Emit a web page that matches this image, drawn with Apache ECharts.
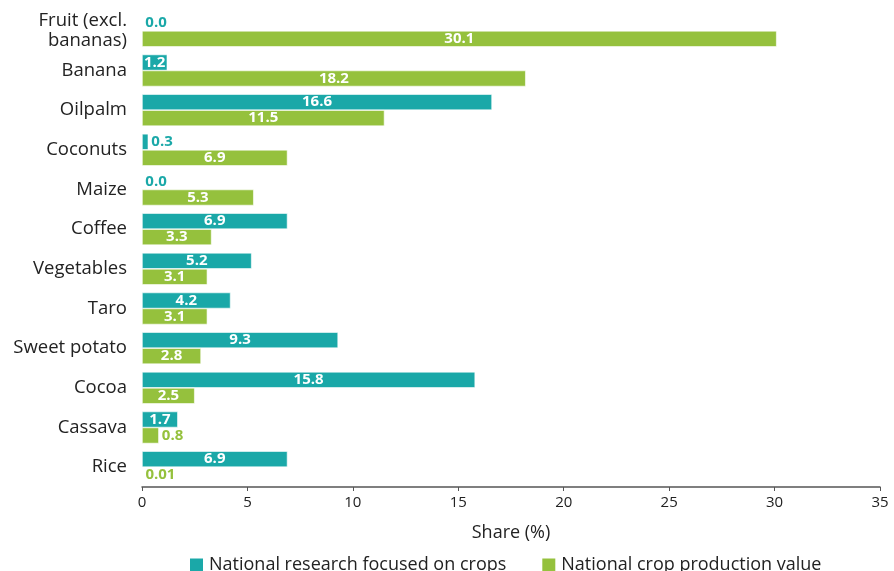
<!DOCTYPE html>
<html><head><meta charset="utf-8">
<script src="https://cdn.jsdelivr.net/npm/echarts@6/dist/echarts.min.js"></script>
<style>html,body{margin:0;padding:0;background:#fff}#c{width:894px;height:571px}</style>
</head><body><div id="c"></div>
<script>
const categories = ['Fruit (excl.\nbananas)', 'Banana', 'Oilpalm', 'Coconuts', 'Maize', 'Coffee', 'Vegetables', 'Taro', 'Sweet potato', 'Cocoa', 'Cassava', 'Rice'];
const researchShare = [0.0, 1.2, 16.6, 0.3, 0.0, 6.9, 5.2, 4.2, 9.3, 15.8, 1.7, 6.9];
const productionShare = [30.1, 18.2, 11.5, 6.9, 5.3, 3.3, 3.1, 3.1, 2.8, 2.5, 0.8, 0.01];
const seriesNames = ['National research focused on crops', 'National crop production value'];
const xTicks = [0, 35, 5];

const FONT = 'Open Sans';
const TEAL = '#1aa8a8';
const GREEN = '#95c13d';

function fmt(v) { return (v > 0 && v < 0.05) ? String(v) : v.toFixed(1); }
function mk(vals, color) {
  return vals.map(v => {
    const inside = v >= 1;
    return {
      value: v,
      label: inside
        ? { position: 'inside', color: '#fff' }
        : { position: 'right', color: color, distance: 3 }
    };
  });
}

const chart = echarts.init(document.getElementById('c'));
chart.setOption({
  animation: false,
  textStyle: { fontFamily: FONT },
  grid: { left: 142, right: 14, top: 11, bottom: 84, containLabel: false },
  legend: {
    bottom: -8, left: 183, itemWidth: 15, itemHeight: 15, itemGap: 34,
    icon: 'rect',
    textStyle: { fontFamily: FONT, fontSize: 18, color: '#222' },
    data: seriesNames
  },
  xAxis: {
    type: 'value', min: xTicks[0], max: xTicks[1], interval: xTicks[2],
    name: 'Share (%)', nameLocation: 'middle', nameGap: 37,
    nameTextStyle: { fontFamily: FONT, fontSize: 18, color: '#222' },
    axisLine: { show: true, lineStyle: { color: '#555', width: 1.5 } },
    axisTick: { show: true, length: 4, lineStyle: { color: '#555' } },
    axisLabel: { fontFamily: FONT, fontSize: 15, color: '#222', margin: 8 },
    splitLine: { show: false }
  },
  yAxis: {
    type: 'category', data: categories, inverse: true,
    axisLine: { show: false }, axisTick: { show: false },
    axisLabel: { fontFamily: FONT, fontSize: 18.5, color: '#222', margin: 15, lineHeight: 20 }
  },
  series: [
    {
      name: seriesNames[0], type: 'bar', data: mk(researchShare, TEAL),
      barWidth: 16, barGap: '0%',
      itemStyle: { color: TEAL, borderColor: '#fff', borderWidth: 0.6 },
      label: { show: true, fontFamily: FONT, fontWeight: 'bold', fontSize: 15, formatter: p => fmt(p.value) }
    },
    {
      name: seriesNames[1], type: 'bar', data: mk(productionShare, GREEN),
      barWidth: 16, barGap: '0%',
      itemStyle: { color: GREEN, borderColor: '#fff', borderWidth: 0.6 },
      label: { show: true, fontFamily: FONT, fontWeight: 'bold', fontSize: 15, formatter: p => fmt(p.value) }
    }
  ]
});
</script></body></html>
